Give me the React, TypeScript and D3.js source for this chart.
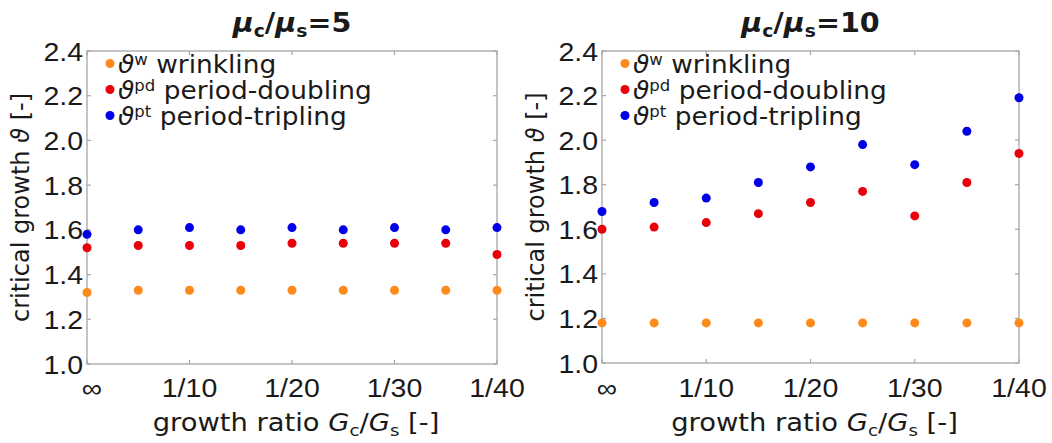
import React from "react";
import * as d3 from "d3";

const categories = ["inf", "1/5", "1/10", "1/15", "1/20", "1/25", "1/30", "1/35", "1/40"];
const tickCategories = ["inf", "1/10", "1/20", "1/30", "1/40"];
const tickText = ["∞", "1/10", "1/20", "1/30", "1/40"];
const yTicks = [1.0, 1.2, 1.4, 1.6, 1.8, 2.0, 2.2, 2.4];

const wrinkling5 = [1.32, 1.33, 1.33, 1.33, 1.33, 1.33, 1.33, 1.33, 1.33];
const doubling5 = [1.52, 1.53, 1.53, 1.53, 1.54, 1.54, 1.54, 1.54, 1.49];
const tripling5 = [1.58, 1.60, 1.61, 1.60, 1.61, 1.60, 1.61, 1.60, 1.61];

const wrinkling10 = [1.18, 1.18, 1.18, 1.18, 1.18, 1.18, 1.18, 1.18, 1.18];
const doubling10 = [1.60, 1.61, 1.63, 1.67, 1.72, 1.77, 1.66, 1.81, 1.94];
const tripling10 = [1.68, 1.72, 1.74, 1.81, 1.88, 1.98, 1.89, 2.04, 2.19];

const seriesNames = ["wrinkling", "period-doubling", "period-tripling"];
const seriesSup = ["w", "pd", "pt"];
const colors = ["#ff8a1c", "#e8000b", "#0000e6"];

const SX = 1.14;
const TXT = "#1a1a1a";
const BOX = "#a6a6a6";
const SANS = "'DejaVu Sans', sans-serif";
const TICKF = "'Liberation Sans', Arial, sans-serif";

type PanelProps = {
  x0: number; x1: number; y0: number; y1: number;
  ratio: string; series: number[][]; ylabelX: number;
};

function Panel({ x0, x1, y0, y1, ratio, series, ylabelX }: PanelProps) {
  const x = d3.scalePoint<string>().domain(categories).range([x0, x1]);
  const y = d3.scaleLinear().domain([1.0, 2.4]).range([y1, y0]);
  const cx = (x0 + x1) / 2;
  const cy = (y0 + y1) / 2;
  const tl = 4;
  return (
    <g>
      {/* title */}
      <g transform={`translate(${cx},32) scale(1.1,1)`}>
        <text textAnchor="middle" fontFamily={SANS} fontWeight="bold" fontSize={26} fill={TXT}>
          <tspan fontStyle="italic">μ</tspan>
          <tspan fontSize={17} dy={5}>c</tspan>
          <tspan dy={-5}>/</tspan>
          <tspan fontStyle="italic">μ</tspan>
          <tspan fontSize={17} dy={5}>s</tspan>
          <tspan dy={-5}>={ratio}</tspan>
        </text>
      </g>
      {/* box */}
      <rect x={x0} y={y0} width={x1 - x0} height={y1 - y0} fill="none" stroke={BOX} strokeWidth={1.3} />
      {/* y ticks */}
      {yTicks.map((t) => (
        <g key={"y" + t}>
          <line x1={x0} x2={x0 + tl} y1={y(t)} y2={y(t)} stroke={BOX} strokeWidth={1.2} />
          <line x1={x1} x2={x1 - tl} y1={y(t)} y2={y(t)} stroke={BOX} strokeWidth={1.2} />
          <g transform={`translate(${x0 - 4},${y(t) + 9.5}) scale(${SX},1)`}>
            <text textAnchor="end" fontFamily={TICKF} fontSize={25} fill={TXT}>{t.toFixed(1)}</text>
          </g>
        </g>
      ))}
      {/* x ticks */}
      {tickCategories.map((c, i) => {
        const px = x(c) as number;
        return (
          <g key={"x" + c}>
            <line x1={px} x2={px} y1={y1} y2={y1 - tl} stroke={BOX} strokeWidth={1.2} />
            <line x1={px} x2={px} y1={y0} y2={y0 + tl} stroke={BOX} strokeWidth={1.2} />
            <g transform={`translate(${px + (i === 0 ? 5 : 0)},397) scale(${SX},1)`}>
              <text textAnchor="middle" fontFamily={TICKF} fontSize={25} fill={TXT}>{tickText[i]}</text>
            </g>
          </g>
        );
      })}
      {/* x label */}
      <g transform={`translate(${cx + 4},431) scale(${SX},1)`}>
        <text textAnchor="middle" fontFamily={SANS} fontSize={24} fill={TXT}>
          growth ratio <tspan fontStyle="italic">G</tspan>
          <tspan fontSize={16} dy={5}>c</tspan>
          <tspan dy={-5}>/</tspan>
          <tspan fontStyle="italic">G</tspan>
          <tspan fontSize={16} dy={5}>s</tspan>
          <tspan dy={-5}> [-]</tspan>
        </text>
      </g>
      {/* y label */}
      <g transform={`translate(${ylabelX},${cy}) rotate(-90)`}>
        <text textAnchor="middle" fontFamily={SANS} fontSize={24} fill={TXT}>
          critical growth <tspan fontStyle="italic">ϑ</tspan> [-]
        </text>
      </g>
      {/* points */}
      {series.map((vals, si) => (
        <g key={"s" + si}>
          {vals.map((v, i) => (
            <circle key={i} cx={x(categories[i]) as number} cy={y(v)} r={4.5} fill={colors[si]} />
          ))}
        </g>
      ))}
      {/* legend */}
      {seriesNames.map((name, si) => {
        const ly = y0 + 12.5 + si * 26;
        return (
          <g key={"l" + si}>
            <circle cx={x0 + 23} cy={ly} r={4.5} fill={colors[si]} />
            <g transform={`translate(${x0 + 31},${ly + 9}) scale(1.1,1)`}>
              <text fontFamily={SANS} fontSize={24} fill={TXT}>
                <tspan fontStyle="italic">ϑ</tspan>
                <tspan fontSize={15} dy={-8}>{seriesSup[si]}</tspan>
                <tspan dy={8}>{si === 1 ? "  " : " "}{name}</tspan>
              </text>
            </g>
          </g>
        );
      })}
    </g>
  );
}

export default function App() {
  return (
    <svg width={1052} height={443} style={{ position: "absolute", left: 0, top: 0, background: "#fff" }}>
      <rect width={1052} height={443} fill="#fff" />
      <Panel x0={87} x1={497} y0={51} y1={364} ratio="5"
        series={[wrinkling5, doubling5, tripling5]} ylabelX={29} />
      <Panel x0={602} x1={1019} y0={51} y1={363} ratio="10"
        series={[wrinkling10, doubling10, tripling10]} ylabelX={544} />
    </svg>
  );
}
